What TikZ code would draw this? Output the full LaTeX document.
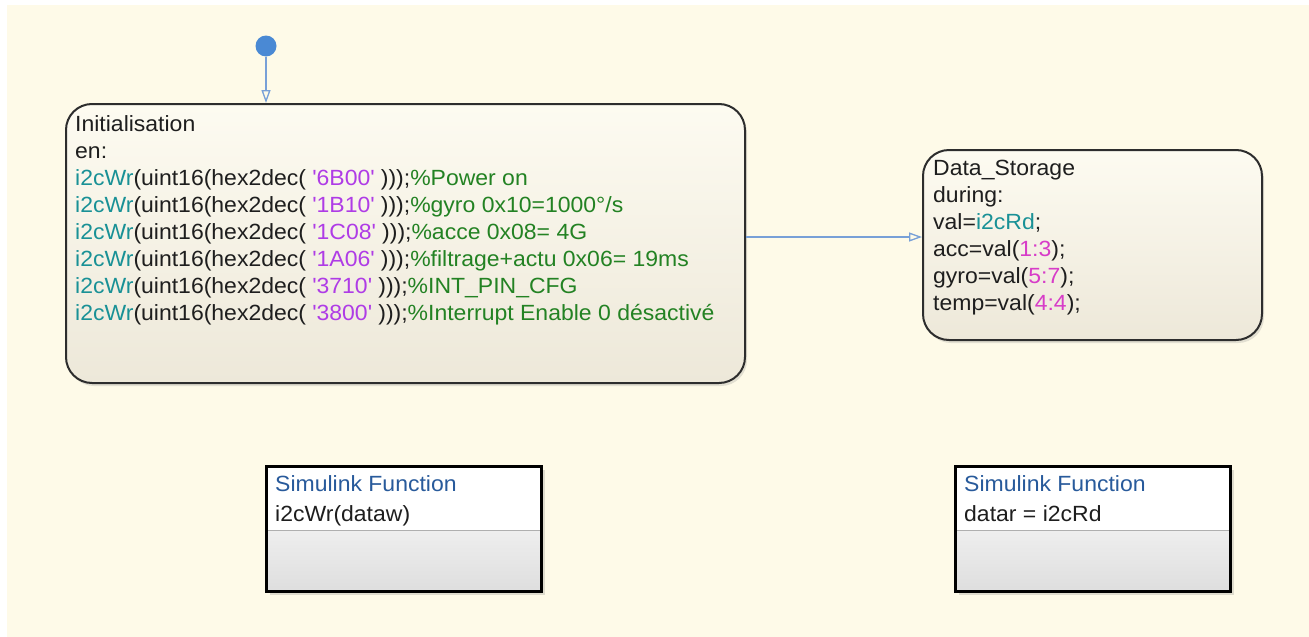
\documentclass[tikz,border=0pt]{standalone}
\usepackage{fontspec}
\setmainfont{Liberation Sans}[FakeStretch=1.045]
\usetikzlibrary{arrows.meta,shadows,calc}

\definecolor{bgcream}{RGB}{254,250,232}
\definecolor{statetop}{RGB}{253,251,241}
\definecolor{statebot}{RGB}{237,232,217}
\definecolor{stateedge}{RGB}{45,45,45}
\definecolor{txtcol}{RGB}{30,30,30}
\definecolor{fncol}{RGB}{25,145,150}
\definecolor{strcol}{RGB}{175,60,230}
\definecolor{cmtcol}{RGB}{35,130,35}
\definecolor{numcol}{RGB}{215,60,200}
\definecolor{sfcol}{RGB}{40,90,155}
\definecolor{transcol}{RGB}{120,160,215}
\definecolor{dotcol}{RGB}{74,137,212}
\definecolor{sfbot}{RGB}{222,222,222}
\definecolor{sepcol}{RGB}{175,175,175}

% colouring of the action language tokens
\newcommand\fnc[1]{\textcolor{fncol}{#1}}
\newcommand\strc[1]{\textcolor{strcol}{\textquotesingle#1\textquotesingle}}
\newcommand\cmtc[1]{\textcolor{cmtcol}{\%#1}}
\newcommand\numc[1]{\textcolor{numcol}{#1}}
\newcommand\wrline[2]{\fnc{i2cWr}(uint16(hex2dec( \strc{#1} )));\cmtc{#2}}

\begin{document}
\begin{tikzpicture}[x=1pt,y=-1pt,
  state/.style={draw=stateedge, line width=2pt, rounded corners=26pt,
    top color=statetop, bottom color=statebot, inner sep=0pt,
    drop shadow={shadow xshift=2pt, shadow yshift=-3pt, opacity=0.22}},
  code/.style={anchor=base west, inner sep=0pt, text=txtcol,
    font=\fontsize{22}{27}\selectfont},
  sfbox/.style={draw=black, line width=3.2pt, fill=white, inner sep=0pt,
    drop shadow={shadow xshift=3pt, shadow yshift=-3pt, opacity=0.25},
    path picture={
      \shade[top color=white, bottom color=sfbot]
        (path picture bounding box.south west) rectangle
        ([yshift=-64pt]path picture bounding box.north east);
      \draw[sepcol, line width=1pt]
        ([yshift=-64pt]path picture bounding box.north west) --
        ([yshift=-64pt]path picture bounding box.north east);}},
  trans/.style={draw=transcol, line width=1.3pt,
    -{Triangle[open, length=13pt, width=9pt, line width=1.3pt]}},
  initdot/.style={circle, fill=dotcol, minimum size=21pt, inner sep=0pt}]

% page and chart canvas
\useasboundingbox (0,0) rectangle (1309,637);
\fill[white] (0,0) rectangle (1309,637);
\fill[bgcream] (7,5) rectangle (1309,637);

% states
\node[state, minimum width=679pt, minimum height=279pt] (initst) at (405.5,243.5) {};
\node[state, minimum width=339pt, minimum height=190pt] (ds) at (1092.5,245) {};

% default transition
\node[initdot] (init) at (266,46) {};
\draw[trans] (init) -- (initst.north -| init);

% transition between the states
\coordinate (t) at (0,237);
\draw[trans] (initst.east |- t) -- (ds.west |- t);

% Initialisation state labels
\node[code] (i0) at (75,131) {Initialisation};
\node[code] (i1) at (75,158) {en:};
\node[code] (i2) at (75,185) {\wrline{6B00}{Power on}};
\node[code] (i3) at (75,212) {\wrline{1B10}{gyro 0x10=1000°/s}};
\node[code] (i4) at (75,239) {\wrline{1C08}{acce 0x08= 4G}};
\node[code] (i5) at (75,266) {\wrline{1A06}{filtrage+actu 0x06= 19ms}};
\node[code] (i6) at (75,293) {\wrline{3710}{INT\_PIN\_CFG}};
\node[code] (i7) at (75,320) {\wrline{3800}{Interrupt Enable 0 désactivé}};

% Data_Storage state labels
\node[code] (d0) at (933,175) {Data\_Storage};
\node[code] (d1) at (933,202) {during:};
\node[code] (d2) at (933,229) {val=\fnc{i2cRd};};
\node[code] (d3) at (933,256) {acc=val(\numc{1:3});};
\node[code] (d4) at (933,283) {gyro=val(\numc{5:7});};
\node[code] (d5) at (933,310) {temp=val(\numc{4:4});};

% Simulink functions
\node[sfbox, minimum width=275pt, minimum height=125pt] (sf1) at (404,529) {};
\node[code, text=sfcol] (sf1t) at (275,491) {Simulink Function};
\node[code] (sf1s) at (275,521) {i2cWr(dataw)};

\node[sfbox, minimum width=275pt, minimum height=125pt] (sf2) at (1093,529) {};
\node[code, text=sfcol] (sf2t) at (964,491) {Simulink Function};
\node[code] (sf2s) at (964,521) {datar = i2cRd};
\end{tikzpicture}
\end{document}
